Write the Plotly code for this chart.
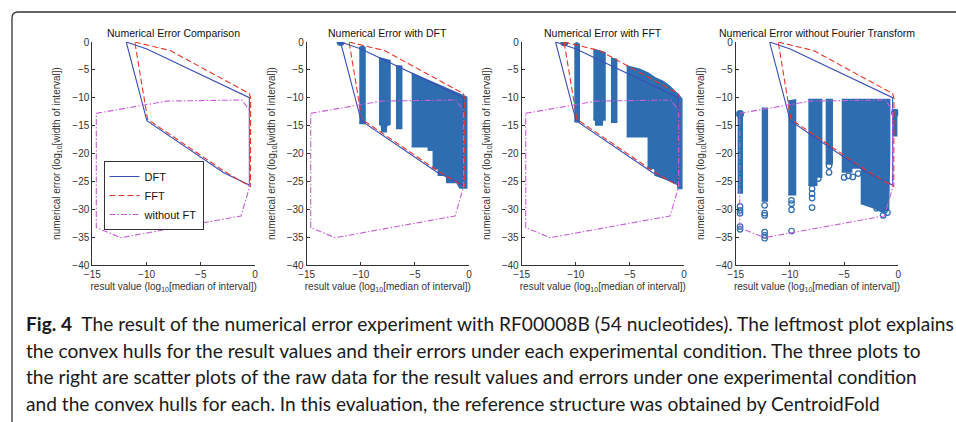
import plotly.graph_objects as go

W, H = 956, 422

# ---------------- data ----------------
x_ticks = [-15, -10, -5, 0]
y_ticks = [-40, -35, -30, -25, -20, -15, -10, -5, 0]
panel_titles = ["Numerical Error Comparison", "Numerical Error with DFT",
                "Numerical Error with FFT", "Numerical Error without Fourier Transform"]
hull_names = ["DFT", "FFT", "without FT"]

# convex hulls (x: log10 median, y: log10 width)
dft_hull_x = [-11.87, -9.97, -0.52, -0.52, -2.92, -9.97, -11.87]
dft_hull_y = [0.0, -1.26, -9.98, -25.65, -23.4, -14.1, 0.0]
fft_hull_x = [-11.08, -7.80, -0.52, -0.40, -0.42, -2.90, -9.90, -11.08]
fft_hull_y = [0.0, -1.55, -9.25, -10.1, -25.95, -23.1, -13.87, 0.0]
noft_hull_x = [-14.63, -8.13, -1.23, -0.52, -0.50, -1.29, -12.36, -14.63, -14.63]
noft_hull_y = [-12.8, -10.6, -10.4, -12.2, -26.0, -31.2, -35.1, -33.3, -12.8]

# raw-data clouds (outer envelopes of dense point regions)
dft_cloud1_x = [-10.14, -9.88, -9.61, -9.61, -10.14]
dft_cloud1_y = [-1.0, -0.75, -1.0, -14.6, -14.6]
dft_cloud2_x = [-8.32, -7.30, -7.30, -7.62, -7.65, -8.05, -8.10, -8.32]
dft_cloud2_y = [-2.80, -3.35, -14.8, -15.0, -16.1, -16.1, -14.9, -14.8]
dft_cloud3_x = [-6.75, -6.22, -6.22, -6.75]
dft_cloud3_y = [-4.25, -4.35, -15.5, -15.5]
dft_cloud4_x = [-5.30, -0.21, -0.21, -0.85, -1.14, -2.06, -2.06, -2.84, -2.84,
                -3.30, -3.30, -3.76, -3.76, -5.30]
dft_cloud4_y = [-5.60, -9.90, -26.2, -26.2, -25.2, -25.2, -23.9, -23.9, -22.7,
                -22.7, -19.4, -19.4, -18.8, -18.8]
dft_pts_x = [-11.87]
dft_pts_y = [0.0]

fft_cloud1_x = [-10.14, -9.91, -9.68, -9.68, -10.14]
fft_cloud1_y = [-0.4, -0.15, -0.4, -14.3, -14.3]
fft_cloud2_x = [-8.38, -7.30, -7.30, -7.55, -7.55, -8.16, -8.16, -8.38]
fft_cloud2_y = [-1.3, -1.9, -14.0, -14.0, -14.9, -14.9, -14.0, -14.0]
fft_cloud3_x = [-6.75, -6.22, -6.22, -6.75]
fft_cloud3_y = [-2.9, -3.1, -14.4, -14.4]
fft_cloud4_x = [-5.3, -4.1, -3.3, -2.7, -1.9, -1.3, -0.55, -0.2, -0.2, -0.55,
                -0.6, -1.5, -2.68, -2.68, -3.3, -3.3, -5.3]
fft_cloud4_y = [-4.3, -4.9, -5.6, -6.4, -7.1, -8.0, -9.4, -10.2, -26.3, -26.3,
                -25.3, -24.7, -23.9, -22.7, -22.7, -17.0, -17.0]
fft_pts_x = [-11.06]
fft_pts_y = [-0.05]

noft_cloudA_x = [-14.82, -14.39, -14.39, -14.82]
noft_cloudA_y = [-12.5, -12.5, -27.1, -27.1]
noft_cloudB_x = [-12.6, -12.08, -12.08, -12.6]
noft_cloudB_y = [-11.9, -11.9, -28.5, -28.5]
noft_cloudC_x = [-10.15, -9.48, -9.48, -10.15]
noft_cloudC_y = [-10.6, -10.4, -27.4, -27.4]
noft_cloudD_x = [-8.30, -7.07, -7.07, -7.53, -7.53, -8.30]
noft_cloudD_y = [-10.3, -10.3, -24.2, -24.2, -25.7, -25.7]
noft_cloudE_x = [-6.70, -6.09, -6.09, -6.70]
noft_cloudE_y = [-10.3, -10.3, -21.9, -21.9]
noft_cloudF_x = [-5.22, -0.80, -0.80, -0.9, -1.2, -1.6, -2.2, -3.4, -3.4, -4.3, -4.3, -5.22]
noft_cloudF_y = [-10.3, -10.3, -20.0, -30.0, -30.8, -30.4, -29.8, -29.0, -22.6, -22.6, -23.3, -23.3]
noft_cloudG_x = [-0.5, -0.15, -0.15, -0.5]
noft_cloudG_y = [-12.2, -12.2, -16.8, -16.8]
noft_out_x = [-14.6, -14.6, -14.6, -14.6, -14.6, -12.33, -12.33, -12.33, -12.33, -12.33,
              -12.33, -9.85, -9.85, -9.85, -9.85, -7.95, -7.95, -7.95, -7.95, -7.38,
              -7.38, -6.39, -6.39, -5.0, -4.6, -4.2, -3.7, -1.4, -1.0, -2.0]
noft_out_y = [-29.5, -30.2, -30.7, -33.1, -33.6, -29.3, -30.7, -31.1, -34.1, -34.7,
              -35.2, -28.4, -29.0, -30.1, -33.9, -26.3, -27.2, -28.0, -29.7, -23.3,
              -24.5, -22.2, -23.4, -24.3, -24.0, -24.2, -23.6, -31.1, -30.6, -29.8]
noft_pts_x = [-14.6, -0.3]
noft_pts_y = [-12.9, -12.7]

caption_lines = [
    "<b>Fig. 4</b>  The result of the numerical error experiment with RF00008B (54 nucleotides). The leftmost plot explains",
    "the convex hulls for the result values and their errors under each experimental condition. The three plots to",
    "the right are scatter plots of the raw data for the result values and errors under one experimental condition",
    "and the convex hulls for each. In this evaluation, the reference structure was obtained by CentroidFold",
]

# ---------------- style ----------------
PT_COLOR = "#2F6DB1"
HULL_STYLE = [
    dict(color="#3A4FB8", width=1.1, dash="solid"),
    dict(color="#E8352A", width=1.1, dash="6px,3px"),
    dict(color="#C75ED8", width=1.1, dash="6px,2px,1.5px,2px"),
]
FONT = "Liberation Sans, Arial, sans-serif"
AX_COLOR = "#333333"

x_left = [92.3, 306.7, 521.7, 735.7]
x_right = [255.0, 469.0, 684.0, 898.3]
y_top, y_bot = 42.0, 265.0

def px(x):
    return x / W

def py(y):
    return 1 - y / H

fig = go.Figure()

clouds = {
    2: [(dft_cloud1_x, dft_cloud1_y), (dft_cloud2_x, dft_cloud2_y),
        (dft_cloud3_x, dft_cloud3_y), (dft_cloud4_x, dft_cloud4_y)],
    3: [(fft_cloud1_x, fft_cloud1_y), (fft_cloud2_x, fft_cloud2_y),
        (fft_cloud3_x, fft_cloud3_y), (fft_cloud4_x, fft_cloud4_y)],
    4: [(noft_cloudA_x, noft_cloudA_y), (noft_cloudB_x, noft_cloudB_y),
        (noft_cloudC_x, noft_cloudC_y), (noft_cloudD_x, noft_cloudD_y),
        (noft_cloudE_x, noft_cloudE_y), (noft_cloudF_x, noft_cloudF_y),
        (noft_cloudG_x, noft_cloudG_y)],
}
caps = {2: (dft_pts_x, dft_pts_y), 3: (fft_pts_x, fft_pts_y), 4: (noft_pts_x, noft_pts_y)}
hulls = [(dft_hull_x, dft_hull_y), (fft_hull_x, fft_hull_y), (noft_hull_x, noft_hull_y)]

for i in range(1, 5):
    xa = "x" if i == 1 else f"x{i}"
    ya = "y" if i == 1 else f"y{i}"
    if i in clouds:
        for cx, cy in clouds[i]:
            fig.add_trace(go.Scatter(x=cx, y=cy, xaxis=xa, yaxis=ya, mode="lines",
                                     fill="toself", fillcolor=PT_COLOR,
                                     line=dict(color=PT_COLOR, width=1.5),
                                     showlegend=False, hoverinfo="skip"))
        if i == 4:
            fig.add_trace(go.Scatter(x=noft_out_x, y=noft_out_y, xaxis=xa, yaxis=ya,
                                     mode="markers",
                                     marker=dict(symbol="circle-open", size=5.5,
                                                 color=PT_COLOR, line=dict(width=1.2)),
                                     showlegend=False))
        cxp, cyp = caps[i]
        fig.add_trace(go.Scatter(x=cxp, y=cyp, xaxis=xa, yaxis=ya, mode="markers",
                                 marker=dict(symbol="circle", size=8, color=PT_COLOR),
                                 showlegend=False))
    for k, (hx, hy) in enumerate(hulls):
        fig.add_trace(go.Scatter(x=hx, y=hy, xaxis=xa, yaxis=ya, mode="lines",
                                 name=hull_names[k], legendgroup=hull_names[k],
                                 line=HULL_STYLE[k], showlegend=(i == 1)))

layout = dict(
    width=W, height=H, margin=dict(l=0, r=0, t=0, b=0, autoexpand=False),
    paper_bgcolor="white", plot_bgcolor="rgba(0,0,0,0)",
    font=dict(family=FONT, color="#222"),
    showlegend=True,
    legend=dict(x=px(103.5), y=py(161), xanchor="left", yanchor="top",
                bgcolor="white", bordercolor="#333", borderwidth=1,
                font=dict(size=11, family=FONT, color="#111"),
                itemwidth=30, tracegroupgap=0),
)
annotations = []
for i in range(1, 5):
    xk = "xaxis" if i == 1 else f"xaxis{i}"
    yk = "yaxis" if i == 1 else f"yaxis{i}"
    ax_common = dict(showline=True, linecolor=AX_COLOR, linewidth=1, ticks="inside",
                     ticklen=3, tickcolor=AX_COLOR, showgrid=False, zeroline=False,
                     automargin=False,
                     tickfont=dict(size=10, family=FONT, color="#333"), mirror=False)
    layout[xk] = dict(ax_common, domain=[px(x_left[i - 1]), px(x_right[i - 1])],
                      range=[-15, 0], tickvals=x_ticks, anchor=("y" if i == 1 else f"y{i}"),
                      title=dict(text="result value (log<sub>10</sub>[median of interval])",
                                 font=dict(size=10, family=FONT, color="#333"), standoff=3))
    layout[yk] = dict(ax_common, domain=[py(y_bot), py(y_top)],
                      range=[-40, 0], tickvals=y_ticks, anchor=("x" if i == 1 else f"x{i}"),
                      title=dict(text="numerical error (log<sub>10</sub>[width of interval])",
                                 font=dict(size=10, family=FONT, color="#333"), standoff=9))
    annotations.append(dict(text=panel_titles[i - 1], xref="paper", yref="paper",
                            x=px((x_left[i - 1] + x_right[i - 1]) / 2), y=py(y_top),
                            xanchor="center", yanchor="bottom", yshift=1, showarrow=False,
                            font=dict(size=10.5, family=FONT, color="#111")))

cap_centers = [323.5, 350.2, 376.8, 403.3]
for line, yc in zip(caption_lines, cap_centers):
    annotations.append(dict(text=line, xref="paper", yref="paper", x=px(24), y=py(yc),
                            xanchor="left", yanchor="middle", showarrow=False,
                            font=dict(size=19.15, family="Lato, sans-serif", color="#1a1a1a")))
layout["annotations"] = annotations

# frame (rounded top-left corner)
r = 6
layout["shapes"] = [
    dict(type="line", xref="paper", yref="paper", x0=px(12), y0=py(H + 2), x1=px(12), y1=py(12 + r),
         line=dict(color="#333", width=1.3)),
    dict(type="line", xref="paper", yref="paper", x0=px(12 + r), y0=py(12), x1=px(W + 2), y1=py(12),
         line=dict(color="#333", width=1.3)),
    dict(type="path", xref="paper", yref="paper",
         path=f"M {px(12)} {py(12 + r)} Q {px(12)} {py(12)} {px(12 + r)} {py(12)}",
         line=dict(color="#333", width=1.3)),
]
fig.update_layout(**layout)
fig.write_html("out.html", config={"displayModeBar": False},
               post_script="document.body.style.margin='0';document.body.style.padding='0';")
